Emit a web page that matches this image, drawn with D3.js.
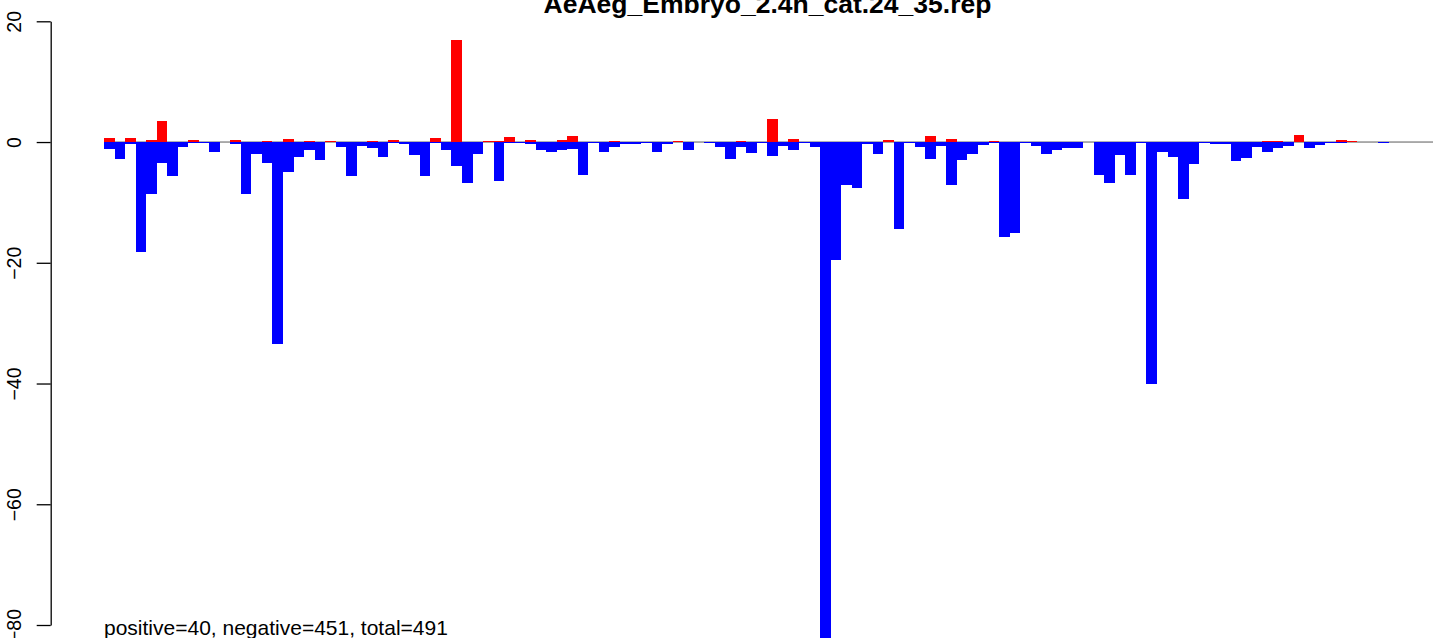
<!DOCTYPE html>
<html>
<head>
<meta charset="utf-8">
<script src="https://cdn.jsdelivr.net/npm/d3@7"></script>
<style>
  html, body { margin: 0; padding: 0; background: #fff; }
  svg { display: block; }
  text { font-family: "Liberation Sans", Arial, Helvetica, sans-serif; }
</style>
</head>
<body>
<svg id="chart" width="1433" height="638"></svg>
<script>
const title = "AeAeg_Embryo_2.4h_cat.24_35.rep";
const footnote = "positive=40, negative=451, total=491";
const yTicks = [-80, -60, -40, -20, 0, 20];

// one value per bar position (127 positions)
const positives = [
  0.72, 0, 0.72, 0, 0.4, 3.5, 0, 0, 0.4, 0,
  0, 0, 0.4, 0, 0, 0.22, 0, 0.55, 0, 0.2,
  0, 0.2, 0, 0, 0, 0.2, 0, 0.4, 0, 0,
  0, 0.75, 0, 16.9, 0, 0, 0.1, 0.2, 0.88, 0,
  0.39, 0, 0, 0.39, 1.05, 0, 0, 0, 0.2, 0,
  0, 0, 0, 0, 0.2, 0, 0, 0, 0, 0,
  0.2, 0, 0, 3.86, 0, 0.55, 0, 0, 0, 0,
  0, 0, 0, 0, 0.39, 0, 0, 0, 1.05, 0,
  0.55, 0, 0, 0, 0.2, 0, 0, 0, 0, 0,
  0, 0, 0, 0, 0, 0, 0, 0, 0, 0,
  0, 0, 0, 0, 0, 0, 0, 0, 0, 0,
  0.2, 0.2, 0, 1.2, 0, 0, 0, 0.39, 0.1, 0,
  0, 0, 0, 0, 0, 0, 0
];
const negatives = [
  -1.2, -2.87, -0.25, -18.2, -8.65, -3.5, -5.7, -0.9, -0.15, -0.1,
  -1.6, 0, -0.4, -8.65, -1.9, -3.4, -33.5, -5.0, -2.4, -1.4,
  -3.05, 0, -0.9, -5.7, -0.7, -1.05, -2.5, -0.1, -0.4, -2.2,
  -5.7, -0.1, -1.4, -3.9, -6.8, -2.0, 0, -6.4, -0.1, -0.1,
  -0.3, -1.3, -1.6, -1.3, -1.1, -5.4, -0.1, -1.6, -0.8, -0.3,
  -0.3, -0.1, -1.6, -0.4, 0, -1.4, 0, -0.1, -0.8, -2.75,
  -0.8, -1.75, -0.2, -2.25, -0.6, -1.4, -0.2, -0.8, -84, -19.5,
  -7.05, -7.55, -0.4, -2.0, 0, -14.4, -0.2, -0.9, -2.75, -0.7,
  -7.05, -3.0, -2.0, -0.55, -0.1, -15.8, -15.0, -0.05, -0.7, -2.0,
  -1.4, -1.05, -1.05, 0, -5.5, -6.8, -2.2, -5.5, -0.2, -40,
  -1.6, -2.5, -9.5, -3.7, -0.2, -0.4, -0.4, -3.2, -2.7, -0.9,
  -1.7, -1.05, -0.7, 0, -1.05, -0.55, -0.2, -0.1, 0, 0,
  0, -0.1, 0, 0, 0, 0, 0
];
const categories = d3.range(positives.length);

const svg = d3.select("#chart");
const barW = 10.53;
const x = d3.scaleBand()
  .domain(categories)
  .range([104, 104 + barW * categories.length])
  .padding(0);
const y = d3.scaleLinear().domain([-80, 20]).range([625, 21.3]);

// baseline
svg.append("line")
  .attr("x1", x.range()[0]).attr("x2", x.range()[1])
  .attr("y1", y(0)).attr("y2", y(0))
  .attr("stroke", "#5a5a5a").attr("stroke-width", 1);

// negative bars (blue)
svg.append("g").attr("shape-rendering", "crispEdges").selectAll("rect")
  .data(categories.filter(i => negatives[i] < 0))
  .join("rect")
  .attr("x", i => x(i))
  .attr("width", x.bandwidth())
  .attr("y", y(0))
  .attr("height", i => Math.max(0.6, y(negatives[i]) - y(0)))
  .attr("fill", "#0000FF");

// positive bars (red)
svg.append("g").attr("shape-rendering", "crispEdges").selectAll("rect")
  .data(categories.filter(i => positives[i] > 0))
  .join("rect")
  .attr("x", i => x(i))
  .attr("width", x.bandwidth())
  .attr("y", i => y(positives[i]))
  .attr("height", i => y(0) - y(positives[i]))
  .attr("fill", "#FF0000");

// y axis
const axis = d3.axisLeft(y).tickValues(yTicks).tickSize(14).tickSizeOuter(0)
  .tickFormat(d => String(d).replace("-", "\u2212"));
const gAxis = svg.append("g").attr("transform", "translate(50.7,0)").call(axis);
gAxis.select(".domain").attr("stroke", "#000").attr("stroke-width", 1.3);
gAxis.selectAll(".tick line").attr("stroke", "#000").attr("stroke-width", 1.3);
gAxis.selectAll(".tick text")
  .attr("x", 0).attr("dy", null)
  .attr("transform", "translate(-29.7,0) rotate(-90)")
  .attr("text-anchor", "middle")
  .attr("dominant-baseline", "alphabetic")
  .attr("y", 0)
  .style("font-size", "19.5px")
  .attr("fill", "#000");

// title
svg.append("text")
  .attr("x", 767.5).attr("y", 13)
  .attr("text-anchor", "middle")
  .style("font-size", "26.5px").style("font-weight", "bold")
  .text(title);

// footnote
svg.append("text")
  .attr("x", 104).attr("y", 635)
  .style("font-size", "21px")
  .text(footnote);
</script>
</body>
</html>
